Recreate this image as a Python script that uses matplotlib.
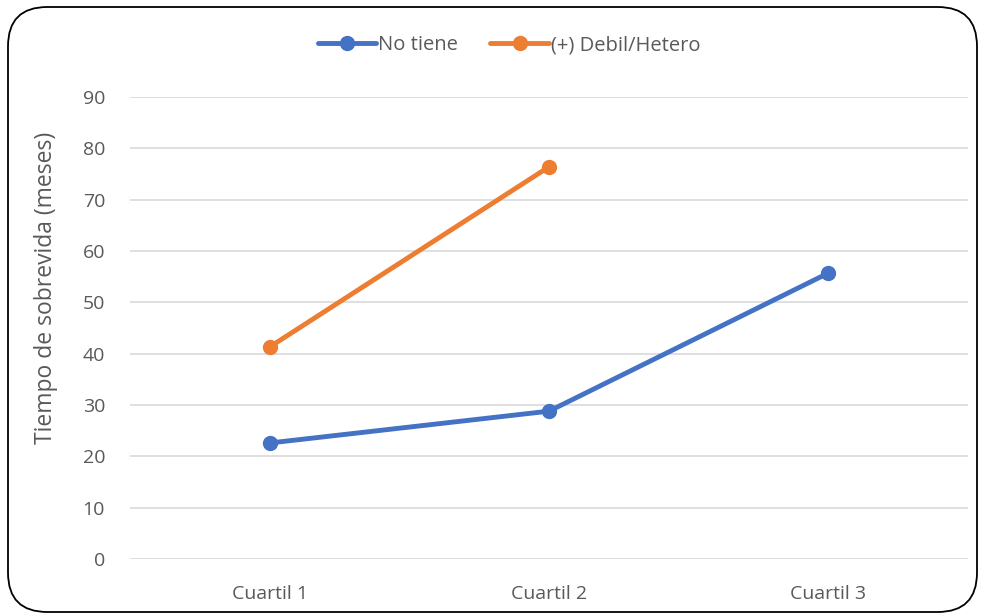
import matplotlib
matplotlib.use("Agg")
import matplotlib.pyplot as plt
from matplotlib.patches import FancyBboxPatch

categories = ["Cuartil 1", "Cuartil 2", "Cuartil 3"]
no_tiene = [22.6, 28.8, 55.7]
debil_hetero = [41.3, 76.4]
yticks = [0, 10, 20, 30, 40, 50, 60, 70, 80, 90]

plt.rcParams['font.family'] = ['Open Sans', 'DejaVu Sans']
text_color = "#595959"

fig = plt.figure(figsize=(9.84, 6.16), dpi=100)
ax = fig.add_axes([130/984, (616-559)/616, (968-130)/984, (559-97)/616])

x = list(range(len(categories)))
ax.plot(x, no_tiene, color="#4472C4", lw=3.5, marker="o", ms=10, label="No tiene", solid_capstyle="round")
ax.plot(x[:len(debil_hetero)], debil_hetero, color="#ED7D31", lw=3.5, marker="o", ms=10, label="(+) Debil/Hetero", solid_capstyle="round")

ax.set_xlim(-0.5, len(categories) - 0.5)
ax.set_ylim(0, 90)
ax.set_yticks(yticks)
ax.set_xticks(x)
ax.set_xticklabels(categories)
ax.grid(axis="y", color="#D9D9D9", lw=1.2)
ax.set_axisbelow(True)
for s in ax.spines.values():
    s.set_visible(False)
ax.tick_params(axis="both", length=0, labelsize=14, labelcolor=text_color)
ax.tick_params(axis="y", pad=18)
ax.tick_params(axis="x", pad=19)
ax.set_ylabel("Tiempo de sobrevida (meses)", fontsize=16.5, color=text_color)
ax.yaxis.set_label_coords(-(130 - 58) / 838, (559 - 288) / 462)

leg = fig.legend(loc="center", bbox_to_anchor=(509/984, 1 - 45/616), ncol=2, frameon=False,
                 fontsize=14.5, labelcolor=text_color, handlelength=2.9, handletextpad=0.1,
                 columnspacing=1.6)

border = FancyBboxPatch((8/984, 4/616), (977-8)/984, (609-4)/616,
                        boxstyle="round,pad=0,rounding_size=0.04", transform=fig.transFigure,
                        fill=False, edgecolor="black", lw=1.3, mutation_aspect=984/616)
fig.patches.append(border)

fig.savefig("out.png", dpi=100, facecolor="white")
